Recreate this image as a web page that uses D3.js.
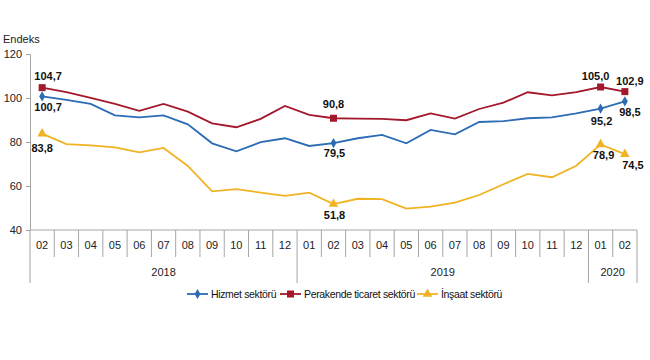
<!DOCTYPE html>
<html><head><meta charset="utf-8">
<script src="https://cdn.jsdelivr.net/npm/d3@7"></script>
<style>body{margin:0;background:#fff}svg{display:block;font-family:"Liberation Sans",Arial,sans-serif}</style>
</head><body>
<svg id="c" width="650" height="360"></svg>
<script>
const months = ["02","03","04","05","06","07","08","09","10","11","12","01","02","03","04","05","06","07","08","09","10","11","12","01","02"];
const years = [{label:"2018", start:0, end:11},{label:"2019", start:11, end:23},{label:"2020", start:23, end:25}];
const hizmet = [100.7,99.1,97.3,92.1,91.2,92.1,88.0,79.4,75.8,79.9,81.7,78.2,79.5,81.7,83.2,79.4,85.5,83.5,89.1,89.5,90.8,91.2,93.0,95.2,98.5];
const perakende = [104.7,102.7,100.1,97.3,94.2,97.3,93.8,88.5,86.7,90.5,96.4,92.3,90.8,90.6,90.5,89.9,93.0,90.6,95.0,97.9,102.6,101.2,102.7,105.0,102.9];
const insaat = [83.8,79.0,78.5,77.6,75.3,77.3,69.1,57.6,58.6,57.0,55.5,57.0,51.8,54.2,54.0,49.7,50.6,52.4,55.9,60.8,65.5,64.0,69.2,78.9,74.5];
const yTicks = [40,60,80,100,120];
const seriesNames = ["Hizmet sektörü","Perakende ticaret sektörü","İnşaat sektörü"];
const colors = ["#2b6cb5","#a3182a","#f0b323"];
const labelled = [0,12,23,24];
// label offsets per series / point index: [dx, dy]
const labelOffsets = [
  {0:[6,15],12:[1,14],23:[1,16],24:[5,15]},
  {0:[6,-8],12:[0,-10],23:[-5,-7],24:[5,-7]},
  {0:[0,18],12:[1,15],23:[3,15],24:[8,15]}
];

const svg = d3.select("#c");
const x = d3.scaleBand().domain(d3.range(months.length)).range([30,637]);
const y = d3.scaleLinear().domain([40,120]).range([230,54]);
const axisColor = "#a6a6a6";

// y axis
const ya = svg.append("g").attr("transform","translate(30,0)")
  .call(d3.axisLeft(y).tickValues(yTicks).tickSize(4).tickPadding(4));
ya.select(".domain").attr("stroke",axisColor);
ya.selectAll(".tick line").attr("stroke",axisColor);
ya.selectAll("text").attr("font-size",11).attr("fill","#222").attr("font-family","Liberation Sans, Arial");

svg.append("text").attr("x",3).attr("y",43).attr("font-size",11).attr("fill","#222").text("Endeks");

// x axis baseline
svg.append("line").attr("x1",30).attr("x2",637).attr("y1",y(40)).attr("y2",y(40)).attr("stroke",axisColor);
// month separators
const yearStarts = new Set(years.map(d=>d.start).concat([months.length]));
d3.range(months.length+1).forEach(i=>{
  const xp = i<months.length ? x(i) : x.range()[1];
  const long = yearStarts.has(i);
  svg.append("line").attr("x1",xp).attr("x2",xp).attr("y1",y(40)).attr("y2",long?283:257)
    .attr("stroke",axisColor);
});
svg.selectAll(".mlab").data(months).join("text")
  .attr("x",(d,i)=>x(i)+x.bandwidth()/2).attr("y",249).attr("text-anchor","middle")
  .attr("font-size",11).attr("fill","#222").text(d=>d);
svg.selectAll(".ylab").data(years).join("text")
  .attr("x",d=>(x(d.start)+(d.end<months.length?x(d.end):x.range()[1]))/2).attr("y",276)
  .attr("text-anchor","middle").attr("font-size",11).attr("fill","#222").text(d=>d.label);

const data = [hizmet, perakende, insaat];
const line = d3.line().x((d,i)=>x(i)+x.bandwidth()/2).y(d=>y(d));

function marker(g, k, cx, cy){
  if(k===0){
    g.append("path").attr("d",d3.symbol(d3.symbolDiamond,30)()).attr("transform",`translate(${cx},${cy})`).attr("fill",colors[0]);
  } else if(k===1){
    g.append("rect").attr("x",cx-3.5).attr("y",cy-3.5).attr("width",7).attr("height",7).attr("fill",colors[1]);
  } else {
    g.append("path").attr("d",d3.symbol(d3.symbolTriangle,40)()).attr("transform",`translate(${cx},${cy})`).attr("fill",colors[2]);
  }
}

data.forEach((vals,k)=>{
  svg.append("path").datum(vals).attr("d",line).attr("fill","none").attr("stroke",colors[k]).attr("stroke-width",1.8);
  const g = svg.append("g");
  labelled.forEach(i=>{
    const cx = x(i)+x.bandwidth()/2, cy = y(vals[i]);
    marker(g,k,cx,cy);
    const off = labelOffsets[k][i];
    g.append("text").attr("x",cx+off[0]).attr("y",cy+off[1]).attr("text-anchor","middle")
      .attr("font-size",11).attr("font-weight","bold").attr("fill","#111")
      .text(d3.format(".1f")(vals[i]).replace(".",","));
  });
});

// legend
const legendX = [187,280,417];
seriesNames.forEach((name,k)=>{
  const lx = legendX[k], ly = 294;
  svg.append("line").attr("x1",lx).attr("x2",lx+21).attr("y1",ly).attr("y2",ly).attr("stroke",colors[k]).attr("stroke-width",1.8);
  marker(svg,k,lx+10.5,ly);
  svg.append("text").attr("x",lx+24).attr("y",ly+4).attr("font-size",10.5).attr("letter-spacing",-0.35)
    .attr("fill","#111").text(name);
});
</script>
</body></html>
